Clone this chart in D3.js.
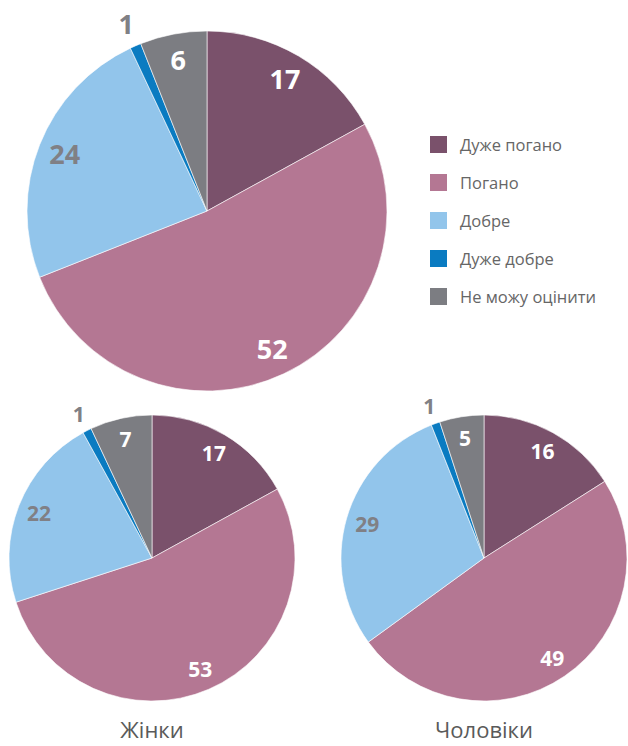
<!DOCTYPE html>
<html>
<head>
<meta charset="utf-8">
<script src="https://d3js.org/d3.v7.min.js"></script>
<style>
  body { margin: 0; background: #fff; }
  text { font-family: "Open Sans", "Noto Sans", sans-serif; }
</style>
</head>
<body>
<script>
// Categories and values (percent)
var categories = ["Дуже погано", "Погано", "Добре", "Дуже добре", "Не можу оцінити"];
var colors = ["#7a516b", "#b47793", "#92c5eb", "#0a7bc1", "#7c7d82"];
var totalValues = [17, 52, 24, 1, 6];
var womenValues = [17, 53, 22, 1, 7];
var menValues = [16, 49, 29, 1, 5];
var groupTitles = ["Жінки", "Чоловіки"];

var width = 628, height = 746;

var svg = d3.select("body").append("svg")
    .attr("width", width)
    .attr("height", height);

var pie = d3.pie().sort(null).value(d => d);

// label colour: dark grey on light blue, white elsewhere; tiny slice label outside
function drawPie(values, cx, cy, r, fontSize) {
    var g = svg.append("g").attr("transform", "translate(" + cx + "," + cy + ")");
    var arcs = pie(values);
    var arc = d3.arc().innerRadius(0).outerRadius(r);

    g.selectAll("path")
        .data(arcs)
        .join("path")
        .attr("d", arc)
        .attr("fill", (d, i) => colors[i])
        .attr("stroke", "#fff")
        .attr("stroke-width", 0.6);

    var inner = d3.arc().innerRadius(r * 0.85).outerRadius(r * 0.85);
    var outer = d3.arc().innerRadius(r * 1.13).outerRadius(r * 1.13);

    g.selectAll("text")
        .data(arcs)
        .join("text")
        .attr("transform", d => "translate(" + (d.data < 3 ? outer : inner).centroid(d) + ")")
        .attr("text-anchor", "middle")
        .attr("dy", "0.36em")
        .attr("font-size", fontSize)
        .attr("font-weight", "bold")
        .attr("fill", (d, i) => (i === 2 || d.data < 3) ? "#808085" : "#fff")
        .text(d => d.data);
}

drawPie(totalValues, 207, 211, 180, 27);
drawPie(womenValues, 152, 558, 143, 21);
drawPie(menValues, 484, 558, 143, 21);

// titles under small pies
svg.selectAll("text.title")
    .data(groupTitles)
    .join("text")
    .attr("class", "title")
    .attr("x", (d, i) => i === 0 ? 152 : 484)
    .attr("y", 738)
    .attr("text-anchor", "middle")
    .attr("font-size", 22)
    .attr("fill", "#5a5a5a")
    .text(d => d);

// legend
var legend = svg.append("g").attr("transform", "translate(430,136)");
var rows = legend.selectAll("g")
    .data(categories)
    .join("g")
    .attr("transform", (d, i) => "translate(0," + (i * 38) + ")");
rows.append("rect")
    .attr("width", 17)
    .attr("height", 17)
    .attr("fill", (d, i) => colors[i]);
rows.append("text")
    .attr("x", 30)
    .attr("y", 9)
    .attr("dy", "0.36em")
    .attr("font-size", 16.5)
    .attr("fill", "#666")
    .text(d => d);
</script>
</body>
</html>
